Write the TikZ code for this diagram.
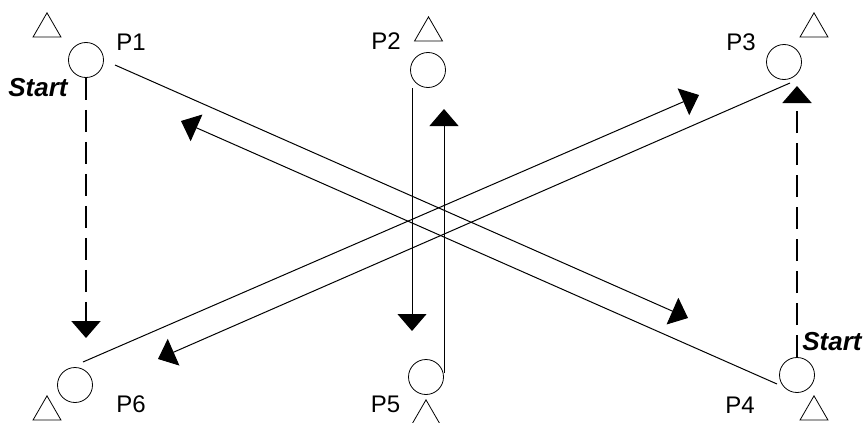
\documentclass[tikz,border=0pt]{standalone}
\usepackage{fontspec}
\setmainfont{Liberation Sans}
\usetikzlibrary{arrows.meta,shapes.geometric}
\begin{document}
\begin{tikzpicture}[x=1pt,y=-1pt,
  post/.style={draw, circle, minimum size=35pt, inner sep=0pt, line width=0.8pt},
  peg/.style={draw, regular polygon, regular polygon sides=3, minimum size=32.3pt, inner sep=0pt, line width=0.8pt},
  lbl/.style={inner sep=0pt, font=\fontsize{24}{28}\selectfont},
  startlbl/.style={inner sep=0pt, font=\fontsize{26}{30}\selectfont\bfseries\itshape},
  run/.style={line width=1pt, -{Triangle[length=17pt,width=29pt]}},
  walk/.style={line width=2pt, dash pattern=on 22pt off 10pt, -{Triangle[length=17pt,width=29pt]}}]
\clip (0,0) rectangle (863,423);
\node[post] (p1) at (86,60) {};
\node[post] (p2) at (428,70) {};
\node[post] (p3) at (784,62) {};
\node[post] (p4) at (797,375) {};
\node[post] (p5) at (426,377) {};
\node[post] (p6) at (75,385) {};
\node[peg] (t1) at (47,29) {};
\node[peg] (t2) at (428.5,33) {};
\node[peg] (t3) at (814,29) {};
\node[peg] (t4) at (814,412) {};
\node[peg] (t5) at (426,416) {};
\node[peg] (t6) at (47,412) {};
\node[lbl] (n1) at (131,42) {P1};
\node[lbl] (n2) at (386,41) {P2};
\node[lbl] (n3) at (741,42) {P3};
\node[lbl] (n4) at (740,405) {P4};
\node[lbl] (n5) at (385.5,404) {P5};
\node[lbl] (n6) at (131,404) {P6};
\node[startlbl] (s1) at (38,88) {Start};
\node[startlbl] (s4) at (832,342) {Start};
\coordinate (a1) at (115,65);
\coordinate (a4) at (688,318);
\coordinate (b4) at (777,384);
\coordinate (b1) at (181,121);
\coordinate (c6) at (83,362);
\coordinate (c3) at (699,95);
\coordinate (d3) at (790,83);
\coordinate (d6) at (158,359);
\coordinate (e2) at (412,88);
\coordinate (e5) at (412,331);
\coordinate (f5) at (444,373);
\coordinate (f2) at (444,109);
\coordinate (g6) at (86,338);
\coordinate (g3) at (797,86);
\draw[run] (a1) -- (a4);
\draw[run] (b4) -- (b1);
\draw[run] (c6) -- (c3);
\draw[run] (d3) -- (d6);
\draw[run] (e2) -- (e5);
\draw[run] (f5) -- (f2);
\draw[walk] (p1) -- (g6);
\draw[walk] (p4) -- (g3);
\end{tikzpicture}
\end{document}
